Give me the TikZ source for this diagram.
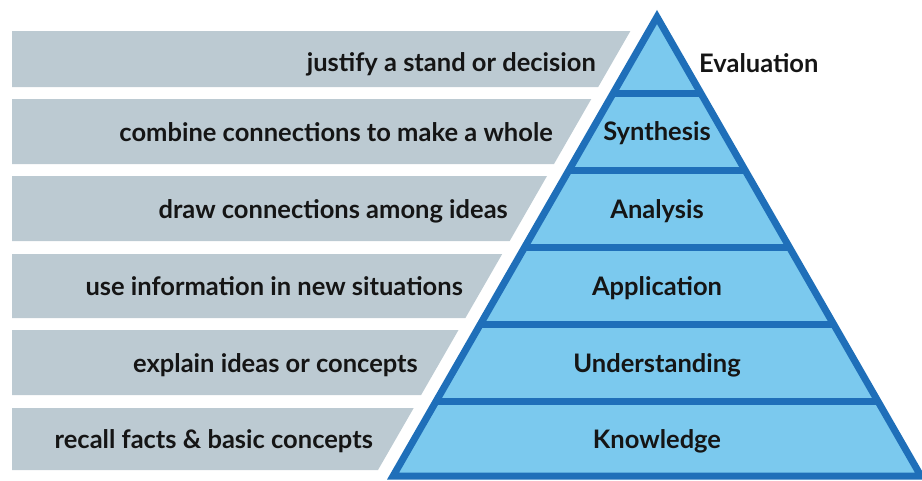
\documentclass[tikz,border=0pt]{standalone}
\usepackage{fontspec}
\setmainfont{Lato}
\definecolor{bannergray}{HTML}{BCCAD2}
\definecolor{pyrfill}{HTML}{7BC9EE}
\definecolor{pyredge}{HTML}{1F6FB9}
\definecolor{ink}{HTML}{151515}
\begin{document}
\begin{tikzpicture}[x=1pt,y=-1pt,
  banner/.style={fill=bannergray},
  task/.style={font=\bfseries\fontsize{25.5}{30}\selectfont, text=ink, anchor=base east, inner sep=0pt},
  level/.style={font=\bfseries\fontsize{25.5}{30}\selectfont, text=ink, anchor=base, inner sep=0pt},
  edge/.style={draw=pyredge, line width=7pt},
]
\useasboundingbox (0,0) rectangle (922,480);
\clip (0,0) rectangle (922,480);

% slanted grey banners, right edges parallel to the pyramid side
\fill[banner] (12,31)  -- (630.4,31)  -- (598.2,87)  -- (12,87)  -- cycle;
\fill[banner] (12,99)  -- (591.3,99)  -- (554.0,164) -- (12,164) -- cycle;
\fill[banner] (12,176) -- (547.0,176) -- (509.7,241) -- (12,241) -- cycle;
\fill[banner] (12,254) -- (502.2,254) -- (465.4,318) -- (12,318) -- cycle;
\fill[banner] (12,330) -- (458.5,330) -- (421.1,395) -- (12,395) -- cycle;
\fill[banner] (12,408) -- (413.7,408) -- (378.0,470) -- (12,470) -- cycle;

% pyramid
\coordinate (apex) at (657,17);
\coordinate (bl) at (393.1,476);
\coordinate (br) at (920.9,476);
\fill[pyrfill] (apex) -- (bl) -- (br) -- cycle;
\begin{scope}
  \clip (apex) -- (bl) -- (br) -- cycle;
  \foreach \y in {93,170,247,324,401}
    \draw[edge] (380,\y) -- (940,\y);
\end{scope}
\draw[edge, line join=miter] (apex) -- (bl) -- (br) -- cycle;

% level names
\node[level, anchor=base west] (eval) at (699,72) {Evaluation};
\node[level] (synth) at (657,140) {Synthesis};
\node[level] (anal)  at (657,218) {Analysis};
\node[level] (appl)  at (657,295) {Application};
\node[level] (under) at (657,372) {Understanding};
\node[level] (know)  at (657,448) {Knowledge};

% descriptions
\node[task] (t1) at (596,71)  {justify a stand or decision};
\node[task] (t2) at (553,141) {combine connections to make a whole};
\node[task] (t3) at (508,218) {draw connections among ideas};
\node[task] (t4) at (463,295) {use information in new situations};
\node[task] (t5) at (418,372) {explain ideas or concepts};
\node[task] (t6) at (373,448) {recall facts \& basic concepts};
\end{tikzpicture}
\end{document}
